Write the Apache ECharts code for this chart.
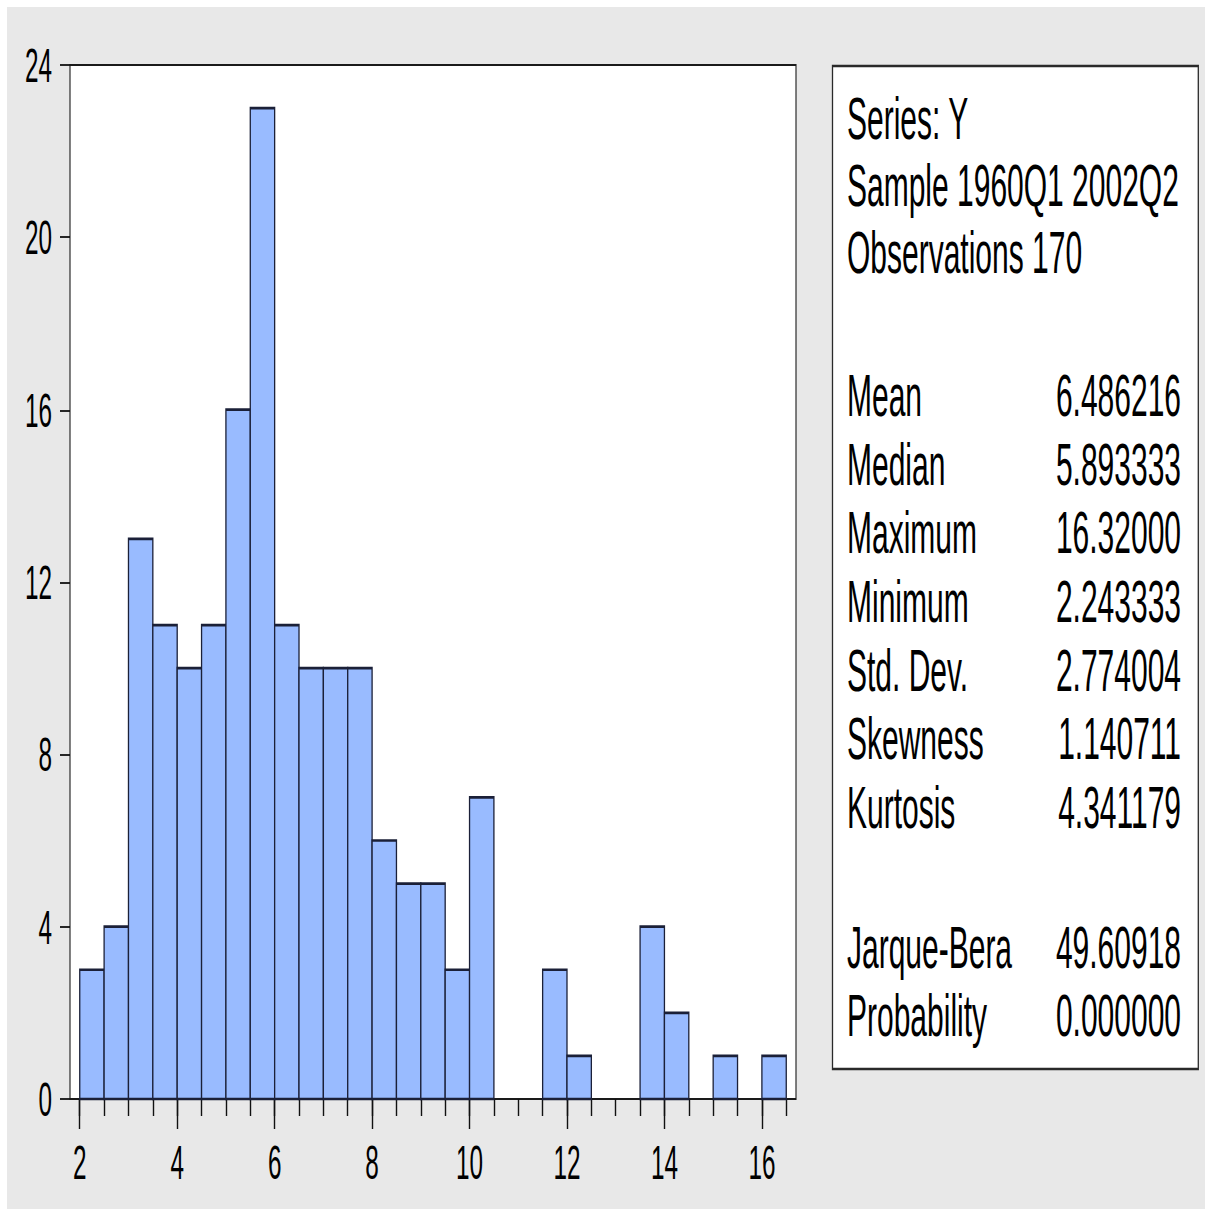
<!DOCTYPE html>
<html>
<head>
<meta charset="utf-8">
<title>Histogram of Y</title>
<script src="https://cdn.jsdelivr.net/npm/echarts@6/dist/echarts.min.js"></script>
<style>
  html, body { margin: 0; padding: 0; background: #ffffff; width: 1205px; height: 1209px; overflow: hidden; }
  #frame { position: absolute; left: 7px; top: 7px; width: 1198px; height: 1202px; background: #e8e8e8; }
  /* The chart is laid out at half height and stretched vertically, giving the tall lettering */
  #chart { position: absolute; left: 0; top: 0; width: 1205px; height: 604.5px;
           transform: scaleY(2); transform-origin: 0 0; }
</style>
</head>
<body>
<div id="frame"></div>
<div id="chart"></div>
<script>
// Histogram of series Y, bins of width 0.5
const binWidth = 0.5;
const binStarts = [2, 2.5, 3, 3.5, 4, 4.5, 5, 5.5, 6, 6.5, 7, 7.5, 8, 8.5, 9, 9.5,
                   10, 10.5, 11, 11.5, 12, 12.5, 13, 13.5, 14, 14.5, 15, 15.5, 16];
const counts    = [3, 4, 13, 11, 10, 11, 16, 23, 11, 10, 10, 10, 6, 5, 5, 3,
                   7, 0, 0, 3, 1, 0, 0, 4, 2, 0, 1, 0, 1];

// Axis ticks and labels
const xMinorTicks = [2, 2.5, 3, 3.5, 4, 4.5, 5, 5.5, 6, 6.5, 7, 7.5, 8, 8.5, 9, 9.5,
                     10, 10.5, 11, 11.5, 12, 12.5, 13, 13.5, 14, 14.5, 15, 15.5, 16, 16.5];
const xMajorTicks = [2, 4, 6, 8, 10, 12, 14, 16];
const yTickStep = 4;

// Descriptive statistics panel
const headerLines = ['Series: Y', 'Sample 1960Q1 2002Q2', 'Observations 170'];
const statNames   = ['Mean', 'Median', 'Maximum', 'Minimum', 'Std. Dev.', 'Skewness', 'Kurtosis'];
const statValues  = ['6.486216', '5.893333', '16.32000', '2.243333', '2.774004', '1.140711', '4.341179'];
const testNames   = ['Jarque-Bera', 'Probability'];
const testValues  = ['49.60918', '0.000000'];

const FONT = "'Liberation Sans', Arial, sans-serif";
const SY = 2; // vertical stretch applied by CSS

const histData = counts.map((c, i) => [binStarts[i], binStarts[i] + binWidth, c]);

// Stats panel text elements
const panelText = [];
const leftX = 847, rightX = 1181;
function addRow(label, value, yFinal) {
  panelText.push({
    type: 'text', z: 10, x: leftX, y: yFinal / SY,
    style: { text: label, x: 0, y: 0, font: '30px ' + FONT, fill: '#000', verticalAlign: 'middle', align: 'left' }
  });
  if (value !== null) {
    panelText.push({
      type: 'text', z: 10, x: rightX, y: yFinal / SY,
      style: { text: value, x: 0, y: 0, font: '30px ' + FONT, fill: '#000', verticalAlign: 'middle', align: 'right' }
    });
  }
}
headerLines.forEach((t, i) => addRow(t, null, 118 + 67 * i));
statNames.forEach((t, i) => addRow(t, statValues[i], 395 + 68.7 * i));
testNames.forEach((t, i) => addRow(t, testValues[i], 947 + 68 * i));

const chart = echarts.init(document.getElementById('chart'), null, { renderer: 'svg' });

const xCommon = {
  type: 'value', min: 1.8, max: 16.7, position: 'bottom',
  axisLine: { show: false }, splitLine: { show: false }
};

chart.setOption({
  animation: false,
  backgroundColor: 'transparent',
  grid: {
    left: 70, right: 409, top: 65 / SY, bottom: 604.5 - 1098 / SY,
    show: true, backgroundColor: '#ffffff', borderColor: '#1a1a1a', borderWidth: 1.1
  },
  xAxis: [
    Object.assign({}, xCommon, {
      axisTick: { show: true, customValues: xMinorTicks, length: 17 / SY, lineStyle: { color: '#111', width: 1.4 } },
      axisLabel: { show: false }
    }),
    Object.assign({}, xCommon, {
      axisTick: { show: true, customValues: xMajorTicks, length: 30 / SY, lineStyle: { color: '#111', width: 1.4 } },
      axisLabel: { show: true, customValues: xMajorTicks, margin: 19.5, color: '#000', fontFamily: FONT, fontSize: 24.3 }
    })
  ],
  yAxis: {
    type: 'value', min: 0, max: 24, interval: yTickStep,
    axisLine: { show: false }, splitLine: { show: false },
    axisTick: { show: true, length: 10, lineStyle: { color: '#111', width: 0.9 } },
    axisLabel: { margin: 18, color: '#000', fontFamily: FONT, fontSize: 24.3 }
  },
  graphic: [
    {
      type: 'rect', z: 5,
      shape: { x: 832.5, y: 66 / SY, width: 1198.3 - 832.5, height: (1069 - 66) / SY },
      style: { fill: '#ffffff', stroke: '#2a2a2a', lineWidth: 1.3 }
    }
  ].concat(panelText),
  series: [{
    type: 'custom',
    xAxisIndex: 0, yAxisIndex: 0,
    data: histData,
    renderItem: function (params, api) {
      if (api.value(2) <= 0) return null;
      const p0 = api.coord([api.value(0), api.value(2)]);
      const p1 = api.coord([api.value(1), 0]);
      return {
        type: 'rect',
        shape: { x: p0[0], y: p0[1], width: p1[0] - p0[0], height: p1[1] - p0[1] },
        style: { fill: '#99bbff', stroke: '#1b2038', lineWidth: 1.3 }
      };
    }
  }]
});
</script>
</body>
</html>
